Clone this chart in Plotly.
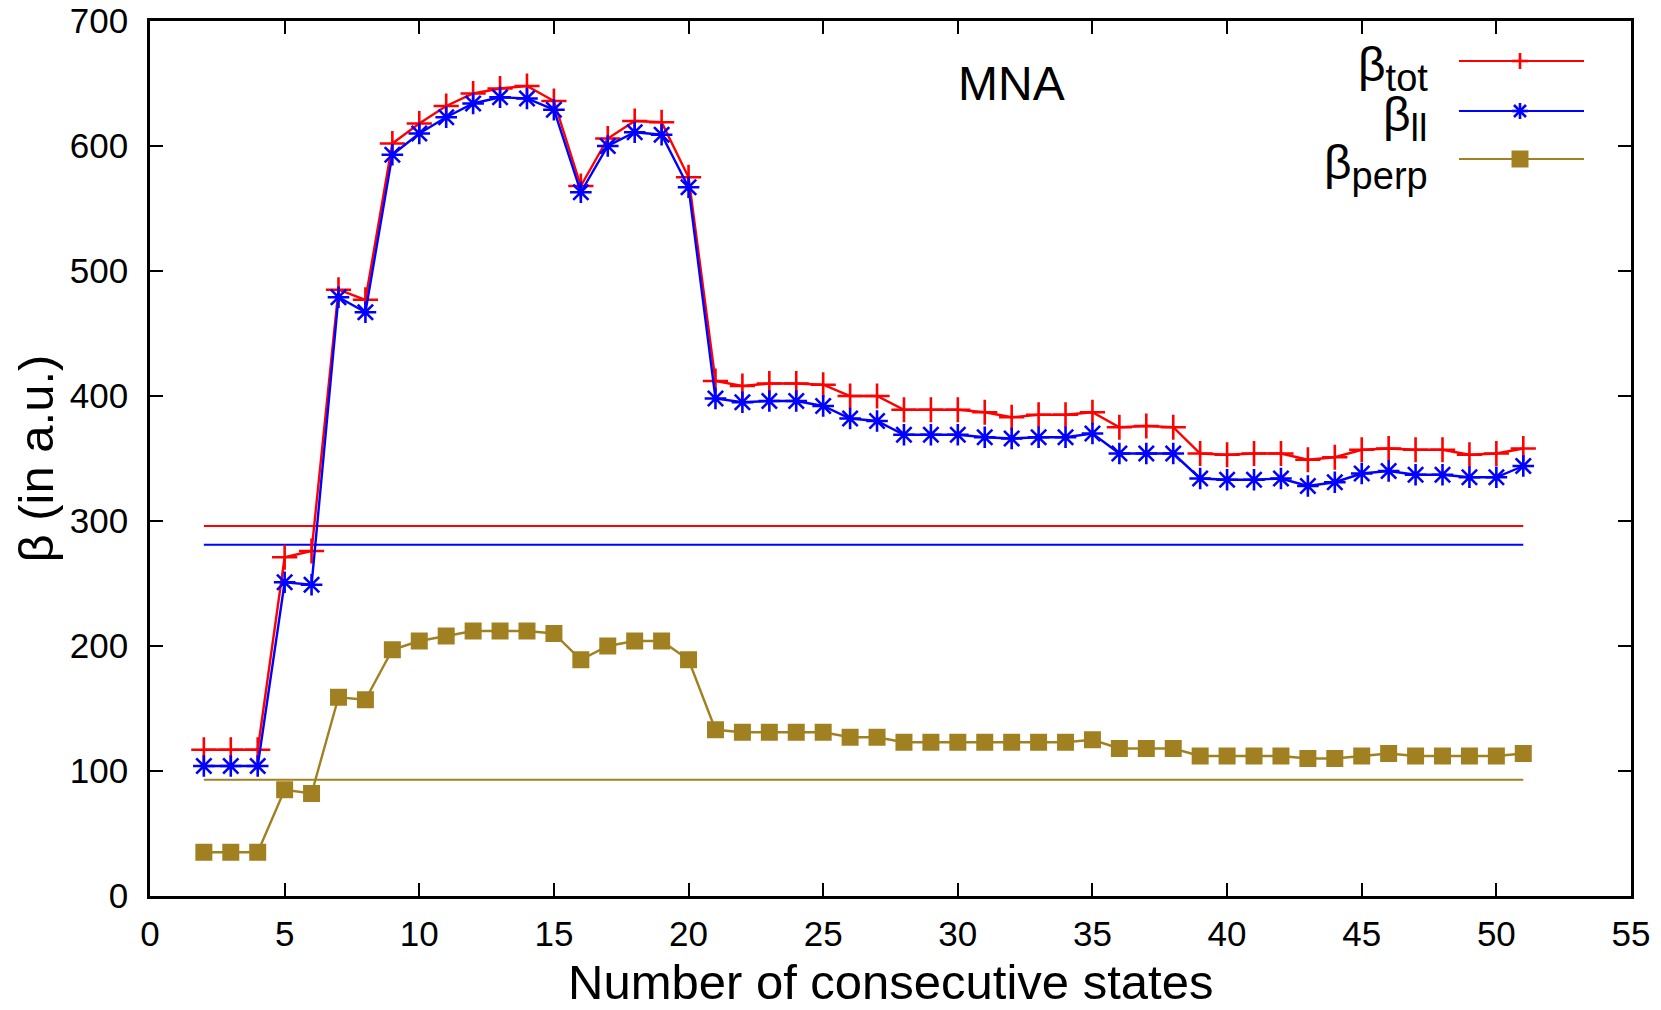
import plotly.graph_objects as go

# ---------------- data ----------------
n_states = [2, 3, 4, 5, 6, 7, 8, 9, 10, 11, 12, 13, 14, 15, 16, 17, 18, 19, 20, 21,
            22, 23, 24, 25, 26, 27, 28, 29, 30, 31, 32, 33, 34, 35, 36, 37, 38, 39, 40, 41,
            42, 43, 44, 45, 46, 47, 48, 49, 50, 51]

beta_tot = [117, 117, 117, 271, 276, 485, 477, 602, 618, 632, 642, 646, 648, 636, 568, 606,
            620, 619, 575, 412, 408, 410, 410, 409, 400, 400, 389, 389, 389, 387, 383, 385,
            385, 387, 375, 376, 375, 354, 353, 354, 354, 349, 351, 357, 358, 357, 357, 353,
            354, 358]

beta_par = [104, 104, 104, 251, 249, 479, 467, 593, 610, 623, 634, 639, 638, 629, 563, 600,
            611, 609, 567, 398, 395, 396, 396, 392, 382, 380, 369, 369, 369, 367, 366, 367,
            367, 370, 354, 354, 354, 334, 333, 333, 334, 328, 331, 338, 340, 337, 337, 335,
            335, 344]

beta_perp = [35, 35, 35, 85, 82, 159, 157, 197, 204, 208, 212, 212, 212, 210, 189, 200,
             204, 204, 189, 133, 131, 131, 131, 131, 127, 127, 123, 123, 123, 123, 123, 123,
             123, 125, 118, 118, 118, 112, 112, 112, 112, 110, 110, 112, 114, 112, 112, 112,
             112, 114]

ref_tot = 296
ref_par = 281
ref_perp = 93

x_ticks = [0, 5, 10, 15, 20, 25, 30, 35, 40, 45, 50, 55]
y_ticks = [0, 100, 200, 300, 400, 500, 600, 700]

# ---------------- style ----------------
RED = "#ff0000"
BLUE = "#0000ff"
GOLD = "#a08020"
FONT = "Liberation Sans, Arial, Helvetica, sans-serif"

W, H = 1661, 1010
ML, MR, MT, MB = 150, 30, 21, 114
PW = W - ML - MR
PH = H - MT - MB


def px_x(px):
    return (px - ML) / PW


def px_y(py):
    return (H - MB - py) / PH


fig = go.Figure()

series = [
    (beta_tot, ref_tot, RED, dict(symbol="cross-thin", size=18, line=dict(width=2.6, color=RED))),
    (beta_par, ref_par, BLUE, dict(symbol="asterisk", size=18, line=dict(width=2.6, color=BLUE))),
    (beta_perp, ref_perp, GOLD, dict(symbol="square", size=17, color=GOLD, line=dict(width=0))),
]

for vals, ref, col, mk in series:
    fig.add_trace(go.Scatter(
        x=[n_states[0], n_states[-1]], y=[ref, ref], mode="lines",
        line=dict(color=col, width=2.2), showlegend=False, hoverinfo="skip"))

for vals, ref, col, mk in series:
    fig.add_trace(go.Scatter(
        x=n_states, y=vals, mode="lines+markers",
        line=dict(color=col, width=2.4), marker=mk, showlegend=False))

axis_common = dict(
    showline=True, linecolor="black", linewidth=2.6, mirror="ticks",
    ticks="inside", ticklen=13, tickwidth=1.6, tickcolor="black",
    showgrid=False, zeroline=False, automargin=False,
    tickfont=dict(family=FONT, size=35, color="black"),
)

fig.update_xaxes(range=[0, 55], tickvals=x_ticks, ticklabelstandoff=5, **axis_common)
fig.update_yaxes(range=[0, 700], tickvals=y_ticks, ticklabelstandoff=12, **axis_common)

annotations = [
    dict(text="MNA", x=32, y=650, xref="x", yref="y", showarrow=False,
         font=dict(family=FONT, size=48, color="black"), xanchor="center", yanchor="middle"),
    dict(text="Number of consecutive states", x=0.5, y=px_y(1010), xref="paper", yref="paper",
         showarrow=False, font=dict(family=FONT, size=49, color="black"),
         xanchor="center", yanchor="bottom", borderpad=0),
    dict(text="β (in a.u.)", x=px_x(35), y=0.5, xref="paper", yref="paper", textangle=-90,
         showarrow=False, font=dict(family=FONT, size=49, color="black"),
         xanchor="center", yanchor="middle"),
]

# ---------------- custom legend (gnuplot style: text left, sample right) ----------------
SUB = "<sub><span style='font-size:38px'>{}</span></sub>"
leg_rows = [("β" + SUB.format("tot"), RED, 61, "plus"),
            ("β" + SUB.format("ll"), BLUE, 111, "star"),
            ("β" + SUB.format("perp"), GOLD, 159, "square")]
LX0, LX1, LXM, LTX = 1459, 1584, 1520, 1429
shapes = []
for label, col, py, kind in leg_rows:
    annotations.append(dict(text=label, x=px_x(LTX), y=px_y(py + 8), xref="paper", yref="paper",
                            showarrow=False, xanchor="right", yanchor="middle", borderpad=0,
                            font=dict(family=FONT, size=48, color="black")))
    shapes.append(dict(type="line", xref="paper", yref="paper", x0=px_x(LX0), x1=px_x(LX1),
                       y0=px_y(py), y1=px_y(py), line=dict(color=col, width=2.2)))
    xa, ya = px_x(LXM), px_y(py)
    if kind == "square":
        shapes.append(dict(type="rect", xref="paper", yref="paper", xsizemode="pixel",
                           ysizemode="pixel", xanchor=xa, yanchor=ya, x0=-8.5, x1=8.5,
                           y0=-8.5, y1=8.5, fillcolor=col, line=dict(width=0)))
    else:
        arms = [(-8, 0, 8, 0), (0, -8, 0, 8)]
        if kind == "star":
            arms += [(-6, -6, 6, 6), (-6, 6, 6, -6)]
        for a0, b0, a1, b1 in arms:
            shapes.append(dict(type="line", xref="paper", yref="paper", xsizemode="pixel",
                               ysizemode="pixel", xanchor=xa, yanchor=ya, x0=a0, x1=a1,
                               y0=b0, y1=b1, line=dict(color=col, width=2.6)))

fig.update_layout(
    width=W, height=H,
    margin=dict(l=ML, r=MR, t=MT, b=MB),
    paper_bgcolor="white", plot_bgcolor="white",
    showlegend=False,
    annotations=annotations,
    shapes=shapes,
    font=dict(family=FONT, color="black"),
)

fig.write_html("out.html", config={"displayModeBar": False},
               post_script="document.body.style.margin='0px';document.body.style.overflow='hidden';")
